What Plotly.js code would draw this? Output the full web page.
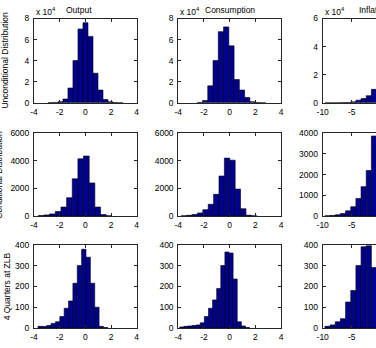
<!DOCTYPE html>
<html><head><meta charset="utf-8">
<script src="https://cdn.plot.ly/plotly-3.0.1.min.js"></script>
<style>html,body{margin:0;padding:0;overflow:hidden;background:#fff;width:376px;height:348px}#chart{width:430px;height:348px}</style>
</head><body><div id="chart"></div><script>
// Column titles and row labels
var colTitles = ["Output", "Consumption", "Inflation"];
var rowLabels = ["Unconditional Distribution", "Conditional Distribution", "4 Quarters at ZLB"];

// Row 1: Unconditional distribution (counts)
var outUncX = [-2.72,-2.33,-1.94,-1.55,-1.16,-0.77,-0.38,0.01,0.40,0.79,1.18,1.57,1.96,2.35,2.74];
var outUncY = [100,300,1000,3500,14000,40000,70000,76000,63000,28000,12000,3000,800,200,50];
var conUncX = [-2.32,-1.91,-1.50,-1.09,-0.68,-0.27,0.14,0.55,0.96,1.37,1.78,2.19,2.60];
var conUncY = [300,2000,16000,40000,67500,72000,54000,22000,12000,5000,1000,200,50];
var infUncX = [-9.17,-8.28,-7.39,-6.50,-5.61,-4.72,-3.83,-2.94,-2.05,-1.16];
var infUncY = [0,10,30,80,200,600,1800,3000,5000,9500];

// Row 2: Conditional distribution
var outConX = [-3.44,-3.00,-2.56,-2.12,-1.68,-1.24,-0.80,-0.36,0.08,0.52,0.96,1.40,1.84];
var outConY = [30,80,150,330,650,1330,2700,4150,4350,2400,650,100,15];
var conConX = [-3.56,-3.14,-2.72,-2.30,-1.88,-1.46,-1.04,-0.62,-0.20,0.22,0.64,1.06,1.48,1.90];
var conConY = [15,50,110,220,460,850,1570,2900,4200,4050,1950,530,60,10];
var infConX = [-9.17,-8.28,-7.39,-6.50,-5.61,-4.72,-3.83,-2.94,-2.05,-1.16];
var infConY = [10,25,60,120,250,450,850,1420,2200,3870];

// Row 3: 4 quarters at ZLB
var outZlbX = [-3.52,-3.18,-2.84,-2.50,-2.16,-1.82,-1.48,-1.14,-0.80,-0.46,-0.12,0.22,0.56,0.90,1.24,1.58];
var outZlbY = [8,7,12,22,30,55,95,130,215,300,378,340,215,100,8,2];
var conZlbX = [-3.73,-3.41,-3.09,-2.77,-2.45,-2.13,-1.81,-1.49,-1.17,-0.85,-0.53,-0.21,0.11,0.43,0.75,1.07,1.39];
var conZlbY = [5,8,10,12,15,25,55,95,135,190,300,365,360,235,30,10,2];
var infZlbX = [-9.17,-8.28,-7.39,-6.50,-5.61,-4.72,-3.83,-2.94,-2.05,-1.16];
var infZlbY = [8,15,30,45,125,180,300,390,395,290];

// Ticks
var xTicksOC = [-4,-2,0,2,4];
var xTicksInf = [-10,-5,0,5];
var yTicksR1OC = [0,20000,40000,60000,80000], yTextR1OC = ["0","2","4","6","8"];
var yTicksR1Inf = [0,20000,40000,60000], yTextR1Inf = ["0","2","4","6"];
var yTicksR2OC = [0,2000,4000,6000];
var yTicksR2Inf = [0,1000,2000,3000,4000];
var yTicksR3 = [0,100,200,300,400];

var W = 430, H = 348;
var colPx = [[34,136.7],[178.3,281],[322.7,425]];
var rowPx = [[18.5,102.7],[133.3,216],[244.7,328]];
var titleCx = [79, 229.7, 373.9];
var xRanges = [[-4,4],[-4,4],[-10,7.64]];
var yRanges = [[[0,80000],[0,80000],[0,60000]],[[0,6000],[0,6000],[0,4000]],[[0,400],[0,400],[0,400]]];
var series = [
  [[outUncX,outUncY],[conUncX,conUncY],[infUncX,infUncY]],
  [[outConX,outConY],[conConX,conConY],[infConX,infConY]],
  [[outZlbX,outZlbY],[conZlbX,conZlbY],[infZlbX,infZlbY]]
];
var FONT = "Liberation Sans, Arial, Helvetica, sans-serif";
var data = [];
var layout = {
  width: W, height: H, margin:{l:0,r:0,t:0,b:0},
  paper_bgcolor:"#fff", plot_bgcolor:"#fff", showlegend:false, bargap:0,
  font:{family:FONT, size:8.5, color:"#000"},
  annotations: []
};
function ax(i){ return i===1 ? "" : String(i); }
for (var r=0;r<3;r++){
  for (var c=0;c<3;c++){
    var k = r*3+c+1;
    data.push({type:"bar", x:series[r][c][0], y:series[r][c][1],
      xaxis:"x"+ax(k), yaxis:"y"+ax(k),
      marker:{color:"#000090", line:{color:"#000", width:0.6}},
      hoverinfo:"skip"});
    var common = {showline:true, linecolor:"#262626", linewidth:1, mirror:"ticks",
      ticks:"inside", ticklen:3, tickwidth:1, tickcolor:"#262626", showgrid:false,
      zeroline:false, fixedrange:true, tickfont:{family:FONT,size:8.5,color:"#000"}};
    var xa = Object.assign({}, common, {
      domain:[colPx[c][0]/W, colPx[c][1]/W], range:xRanges[c], anchor:"y"+ax(k),
      tickmode:"array", tickvals:(c===2?xTicksInf:xTicksOC),
      ticktext:(c===2?xTicksInf:xTicksOC).map(function(v){return String(v);}),
      ticklabelstandoff:1});
    var yv, yt;
    if (r===0){ yv = c===2?yTicksR1Inf:yTicksR1OC; yt = c===2?yTextR1Inf:yTextR1OC; }
    else if (r===1){ yv = c===2?yTicksR2Inf:yTicksR2OC; yt = yv.map(function(v){return String(v);}); }
    else { yv = yTicksR3; yt = yv.map(function(v){return String(v);}); }
    var ya = Object.assign({}, common, {
      domain:[1-rowPx[r][1]/H, 1-rowPx[r][0]/H], range:yRanges[r][c], anchor:"x"+ax(k),
      tickmode:"array", tickvals:yv, ticktext:yt, ticklabelstandoff:2});
    layout["xaxis"+ax(k)] = xa;
    layout["yaxis"+ax(k)] = ya;
  }
}
// column titles and exponent labels
for (var c=0;c<3;c++){
  layout.annotations.push({text:colTitles[c], xref:"paper", yref:"paper",
    x:titleCx[c]/W, y:1-10/H, xanchor:"center", yanchor:"middle",
    showarrow:false, font:{family:FONT,size:8.5,color:"#000"}});
  layout.annotations.push({text:"x 10<sup>4</sup>", xref:"paper", yref:"paper",
    x:colPx[c][0]/W, y:1-11.5/H, xanchor:"left", yanchor:"middle",
    showarrow:false, font:{family:FONT,size:8.5,color:"#000"}});
}
var labelX = [5, -1, 7];
for (var r=0;r<3;r++){
  layout.annotations.push({text:rowLabels[r], xref:"paper", yref:"paper",
    x:labelX[r]/W, y:1-(rowPx[r][0]+rowPx[r][1])/2/H, xanchor:"center", yanchor:"middle",
    textangle:-90, showarrow:false, font:{family:FONT,size:8.5,color:"#000"}});
}
Plotly.newPlot("chart", data, layout, {staticPlot:true, displayModeBar:false});
</script></body></html>
